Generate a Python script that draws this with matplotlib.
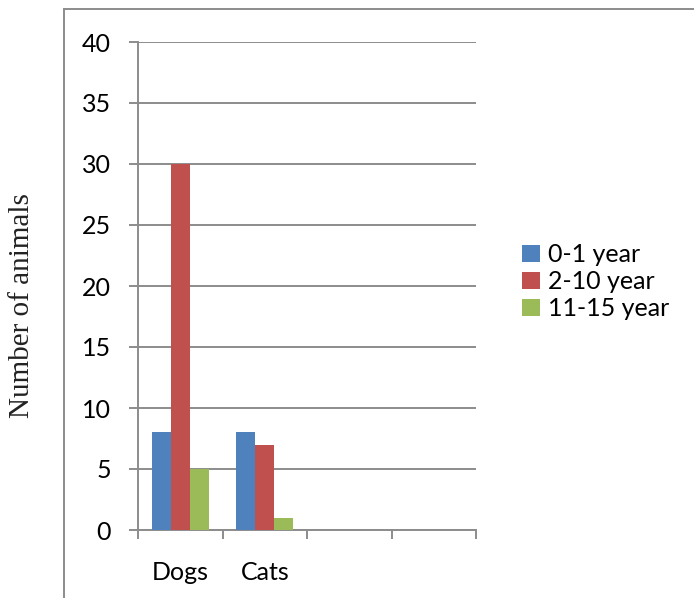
import matplotlib
matplotlib.use("Agg")
import matplotlib.pyplot as plt
import numpy as np
from matplotlib.lines import Line2D
from matplotlib.patches import Patch

categories = ["Dogs", "Cats", "", ""]
series_names = ["0-1 year", "2-10 year", "11-15 year"]
dogs = [8, 30, 5]
cats = [8, 7, 1]
series_colors = ["#4F81BD", "#C0504D", "#9BBB59"]
y_ticks = [0, 5, 10, 15, 20, 25, 30, 35, 40]

values = np.array([dogs, cats]).T  # rows: series, cols: categories with data

W, H = 694, 598
fig = plt.figure(figsize=(W / 100, H / 100), dpi=100)
fig.patch.set_facecolor("white")

grey = "#8C8C8C"
tick_font = "Lato"
fs = 18

ax = fig.add_axes([138 / W, (H - 530) / H, (476 - 138) / W, (530 - 42) / H])
ax.set_facecolor("white")

n_cat = len(categories)
bar_w = 0.225
offsets = (np.arange(len(series_names)) - 1) * bar_w
for i, name in enumerate(series_names):
    x = np.arange(values.shape[1]) + 0.5 + offsets[i]
    ax.bar(x, values[i], width=bar_w, color=series_colors[i], label=name,
           zorder=3, linewidth=0)

ax.set_xlim(0, n_cat)
ax.set_ylim(0, 40)
ax.set_yticks(y_ticks)
ax.set_yticklabels([str(v) for v in y_ticks], fontfamily=tick_font, fontsize=fs)
ax.yaxis.grid(True, color=grey, linewidth=1.4, zorder=0)
ax.set_axisbelow(True)

# category boundaries get tick marks, labels sit at category centres
ax.set_xticks(np.arange(n_cat + 1))
ax.set_xticklabels([])
ax.set_xticks(np.arange(n_cat) + 0.5, minor=True)
ax.set_xticklabels(categories, minor=True, fontfamily=tick_font, fontsize=fs)
ax.tick_params(axis="x", which="minor", length=0, pad=22)
ax.tick_params(axis="x", which="major", length=6.5, width=1.4, color=grey, direction="out")
ax.tick_params(axis="y", length=6.5, width=1.4, color=grey, direction="out", pad=13)

for side in ("top", "right"):
    ax.spines[side].set_visible(False)
for side in ("left", "bottom"):
    ax.spines[side].set_color(grey)
    ax.spines[side].set_linewidth(1.4)

ax.set_ylabel("Number of animals", fontfamily="Liberation Serif", fontsize=21,
              color="#222222", va="center")
ax.yaxis.set_label_coords((22 - 138) / (476 - 138), (530 - 306) / (530 - 42))

handles = [Patch(facecolor=c, edgecolor="none") for c in series_colors]
fig.legend(handles, series_names, loc="upper left",
           bbox_to_anchor=(522 / W, 1 - 243 / H), frameon=False,
           prop={"family": tick_font, "size": fs},
           handlelength=0.72, handleheight=0.65, handletextpad=0.3,
           labelspacing=0.16, borderaxespad=0, borderpad=0)

# outer chart-area border (left and top edges)
fig.add_artist(Line2D([64 / W, 64 / W], [0, 1 - 9 / H], color=grey, linewidth=1.4,
                      transform=fig.transFigure))
fig.add_artist(Line2D([64 / W, 1], [1 - 9 / H, 1 - 9 / H], color=grey, linewidth=1.4,
                      transform=fig.transFigure))

fig.savefig("out.png", dpi=100, facecolor="white")
